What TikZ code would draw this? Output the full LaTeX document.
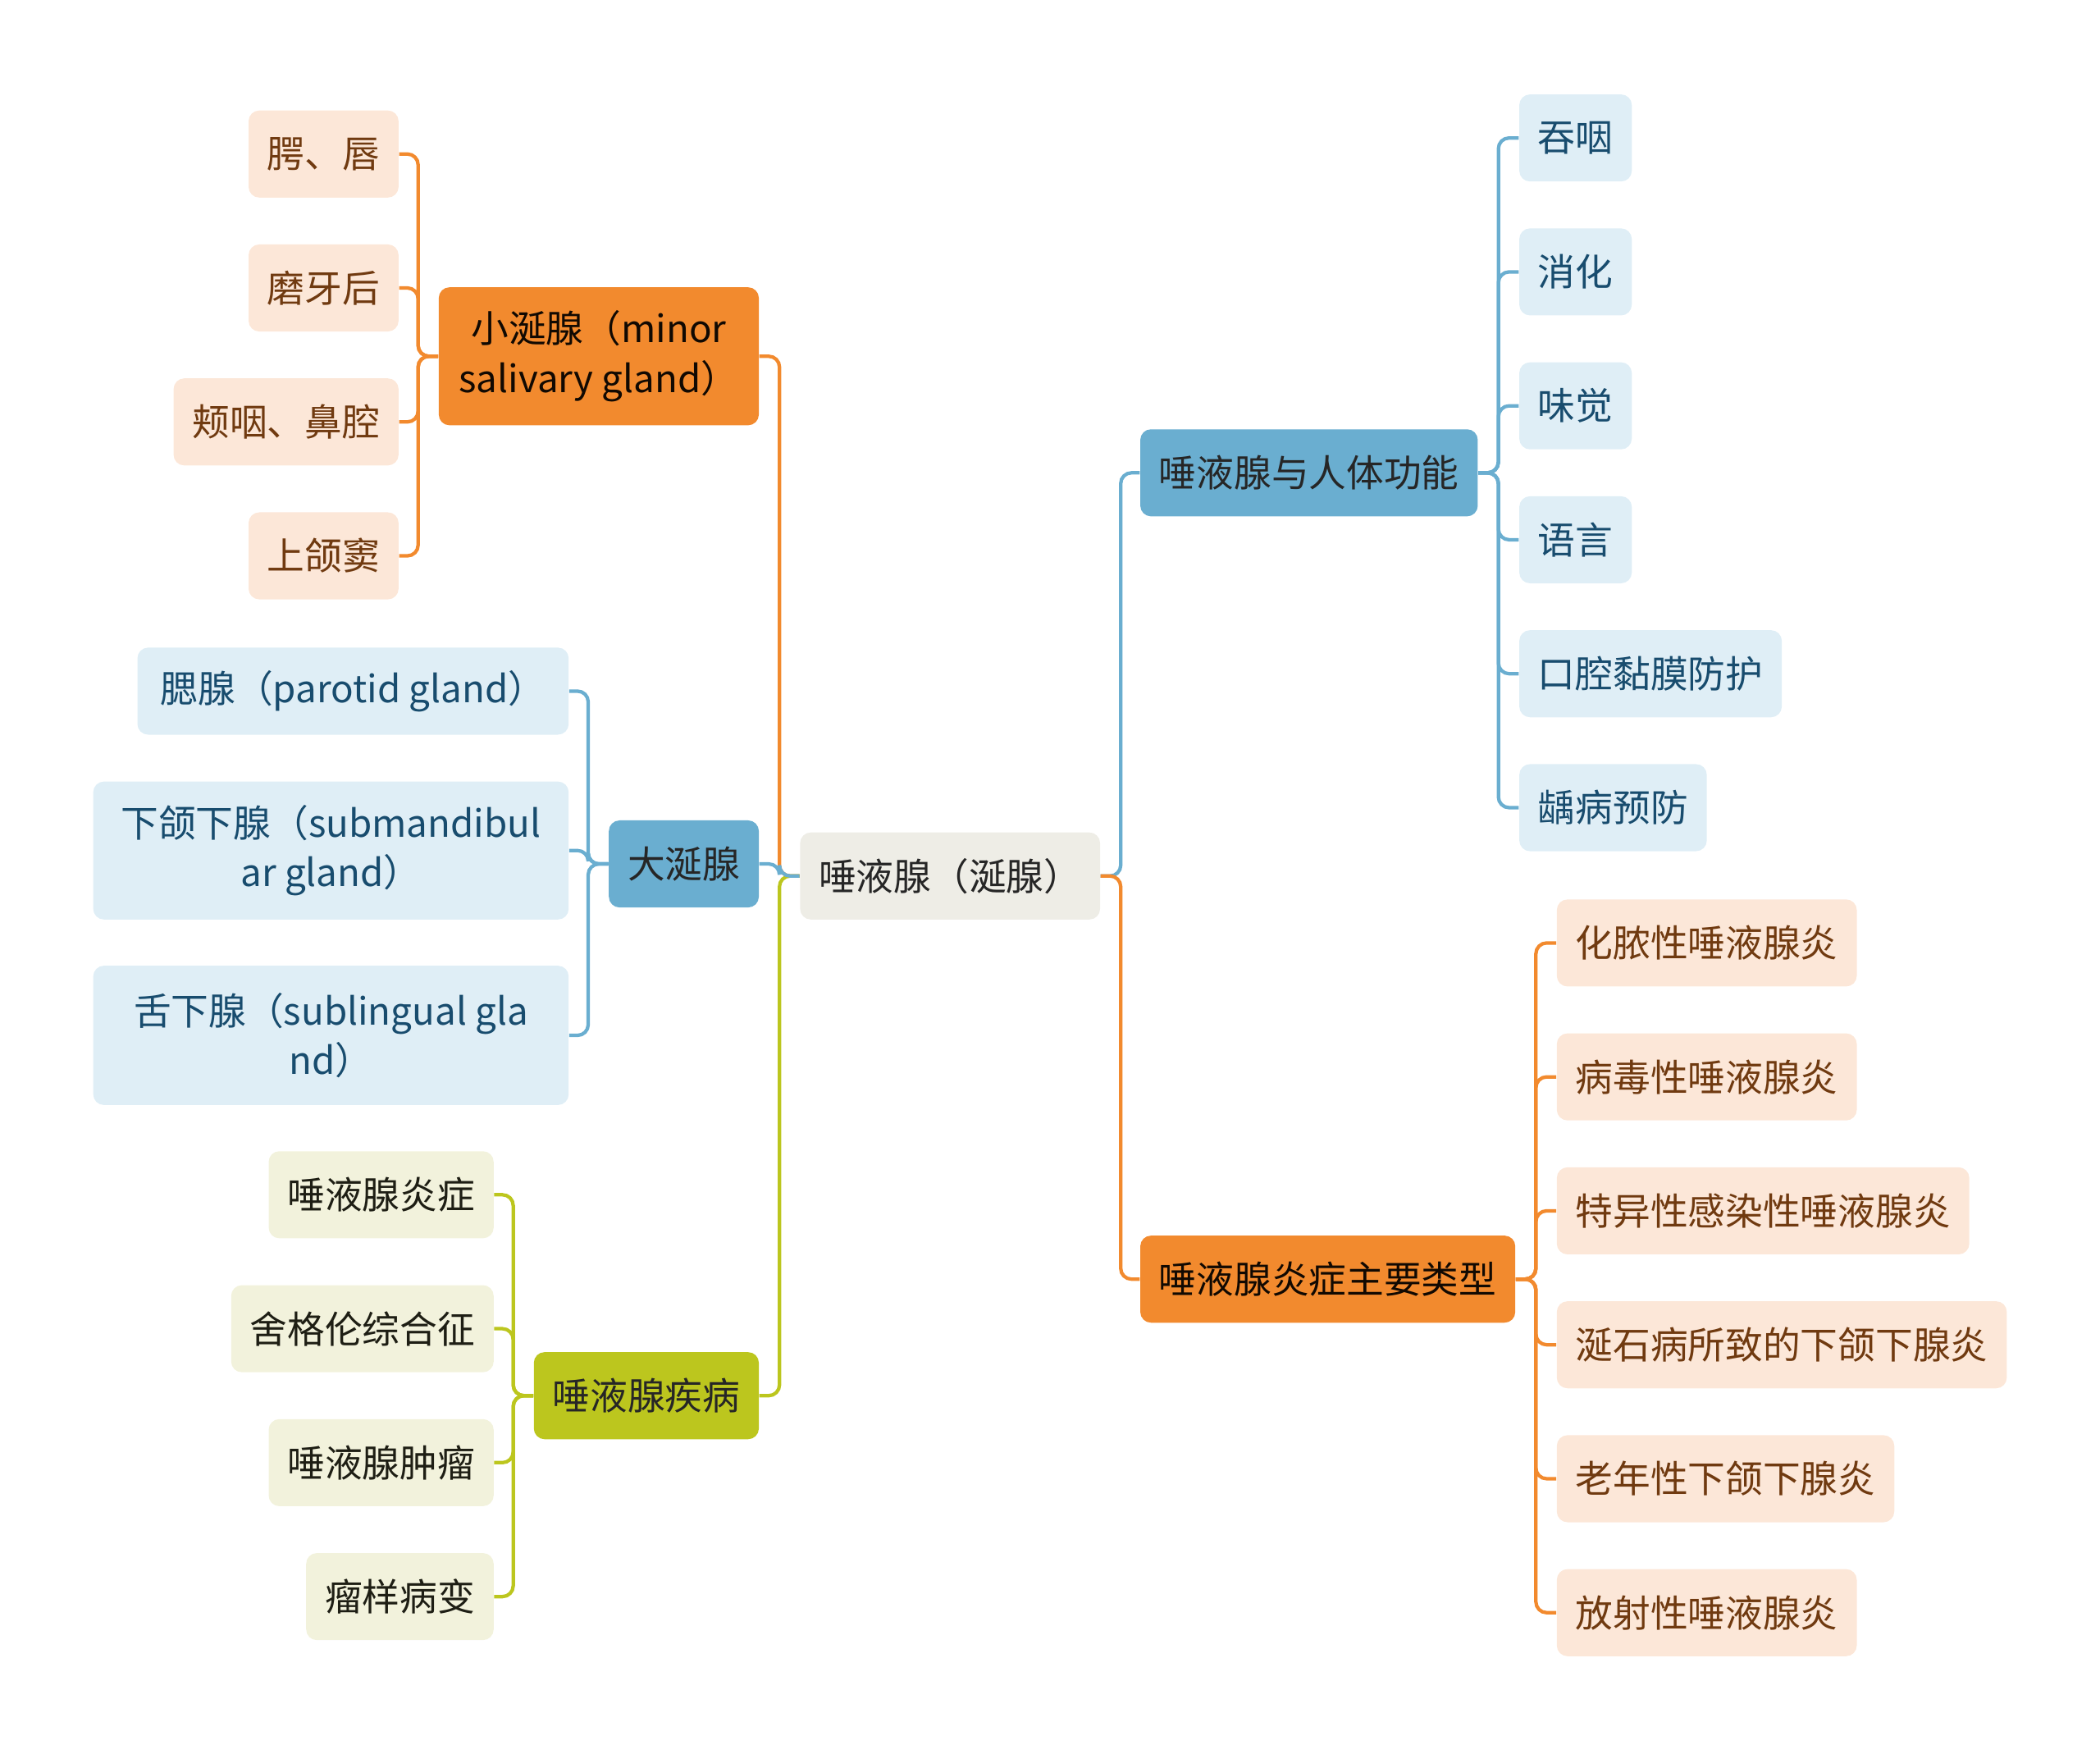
\documentclass[tikz,border=0pt]{standalone}
\usepackage{fontspec}
\setmainfont{Noto Sans CJK SC}
\usetikzlibrary{positioning}
\definecolor{rootfill}{RGB}{238,237,230}
\definecolor{orgmain}{RGB}{242,138,46}
\definecolor{orglight}{RGB}{252,231,216}
\definecolor{orgtext}{RGB}{112,58,16}
\definecolor{bluemain}{RGB}{106,174,208}
\definecolor{bluelight}{RGB}{223,238,246}
\definecolor{bluetext}{RGB}{24,76,110}
\definecolor{grnmain}{RGB}{188,198,30}
\definecolor{grnlight}{RGB}{242,242,220}
\definecolor{grntext}{RGB}{30,30,20}

\begin{document}
\begin{tikzpicture}[x=0.5pt, y=-0.5pt,
    box/.style={rectangle, rounded corners=4pt,
                minimum height=32.5pt, inner xsep=7pt,
                inner ysep=2pt, align=center,
                font=\fontsize{14}{18.5}\selectfont},
    rootbox/.style={box, fill=rootfill, text=black!85},
    orgbox/.style={box, fill=orgmain, text=black!85!orgtext},
    orgleaf/.style={box, fill=orglight, text=orgtext},
    bluebox/.style={box, fill=bluemain, text=black!85},
    blueleaf/.style={box, fill=bluelight, text=bluetext},
    grnbox/.style={box, fill=grnmain, text=black!85},
    grnleaf/.style={box, fill=grnlight, text=grntext},
    link/.style={line width=1.3pt, rounded corners=4pt},
    orglink/.style={link, draw=orgmain},
    bluelink/.style={link, draw=bluemain},
    grnlink/.style={link, draw=grnmain}
]
    \useasboundingbox (0,0) rectangle (1568,1309);

    % centre
    \node[rootbox, anchor=west] (root) at (597,654) {唾液腺（涎腺）};

    % left side
    \node[orgbox, anchor=east, minimum width=119.5pt,
          minimum height=51.5pt] (minor) at (567,266)
        {小涎腺（minor\\salivary gland）};
    \node[bluebox, anchor=east] (major) at (567,645) {大涎腺};
    \node[grnbox, anchor=east] (disease) at (567,1042) {唾液腺疾病};

    \node[orgleaf, anchor=east] (palate) at (298,115) {腭、唇};
    \node[orgleaf, anchor=east] (molar) at (298,215) {磨牙后};
    \node[orgleaf, anchor=east] (nasal) at (298,315) {颊咽、鼻腔};
    \node[orgleaf, anchor=east] (sinus) at (298,415) {上颌窦};

    \node[blueleaf, anchor=east, minimum width=161pt] (parotid) at (425,516)
        {腮腺（parotid gland）};
    \node[blueleaf, anchor=east, minimum width=177.5pt,
          minimum height=51.5pt] (submand) at (425,635)
        {下颌下腺（submandibul\\ar gland）};
    \node[blueleaf, anchor=east, minimum width=177.5pt,
          minimum height=52pt] (subling) at (425,773)
        {舌下腺（sublingual gla\\nd）};

    \node[grnleaf, anchor=east] (inflam) at (369,892) {唾液腺炎症};
    \node[grnleaf, anchor=east] (sjogren) at (369,992) {舍格伦综合征};
    \node[grnleaf, anchor=east] (tumour) at (369,1092) {唾液腺肿瘤};
    \node[grnleaf, anchor=east] (tumlike) at (369,1192) {瘤样病变};

    % right side
    \node[bluebox, anchor=west] (function) at (851,353) {唾液腺与人体功能};
    \node[orgbox, anchor=west] (types) at (851,955) {唾液腺炎症主要类型};

    \node[blueleaf, anchor=west] (swallow) at (1134,103) {吞咽};
    \node[blueleaf, anchor=west] (digest) at (1134,203) {消化};
    \node[blueleaf, anchor=west] (taste) at (1134,303) {味觉};
    \node[blueleaf, anchor=west] (speech) at (1134,403) {语言};
    \node[blueleaf, anchor=west] (mucosa) at (1134,503) {口腔黏膜防护};
    \node[blueleaf, anchor=west] (caries) at (1134,603) {龋病预防};

    \node[orgleaf, anchor=west] (pus) at (1162,704) {化脓性唾液腺炎};
    \node[orgleaf, anchor=west] (virus) at (1162,804) {病毒性唾液腺炎};
    \node[orgleaf, anchor=west] (specific) at (1162,904) {特异性感染性唾液腺炎};
    \node[orgleaf, anchor=west] (stone) at (1162,1004) {涎石病所致的下颌下腺炎};
    \node[orgleaf, anchor=west] (senile) at (1162,1104) {老年性下颌下腺炎};
    \node[orgleaf, anchor=west] (radiat) at (1162,1204) {放射性唾液腺炎};

    % connectors, centre
    \draw[orglink] (root.west) -- ++(-15,0) |- (minor.east);
    \draw[grnlink] (root.west) -- ++(-15,0) |- (disease.east);
    \draw[bluelink] (root.west) -- ++(-15,0) |- (major.east);
    \draw[bluelink] (root.east) -- ++(15,0) |- (function.west);
    \draw[orglink] (root.east) -- ++(15,0) |- (types.west);

    % connectors, left
    \draw[orglink] (minor.west) -- ++(-15,0) |- (palate.east);
    \draw[orglink] (minor.west) -- ++(-15,0) |- (molar.east);
    \draw[orglink] (minor.west) -- ++(-15,0) |- (nasal.east);
    \draw[orglink] (minor.west) -- ++(-15,0) |- (sinus.east);

    \draw[bluelink] (major.west) -- ++(-15,0) |- (parotid.east);
    \draw[bluelink] (major.west) -- ++(-15,0) |- (submand.east);
    \draw[bluelink] (major.west) -- ++(-15,0) |- (subling.east);

    \draw[grnlink] (disease.west) -- ++(-15,0) |- (inflam.east);
    \draw[grnlink] (disease.west) -- ++(-15,0) |- (sjogren.east);
    \draw[grnlink] (disease.west) -- ++(-15,0) |- (tumour.east);
    \draw[grnlink] (disease.west) -- ++(-15,0) |- (tumlike.east);

    % connectors, right
    \draw[bluelink] (function.east) -- ++(15,0) |- (swallow.west);
    \draw[bluelink] (function.east) -- ++(15,0) |- (digest.west);
    \draw[bluelink] (function.east) -- ++(15,0) |- (taste.west);
    \draw[bluelink] (function.east) -- ++(15,0) |- (speech.west);
    \draw[bluelink] (function.east) -- ++(15,0) |- (mucosa.west);
    \draw[bluelink] (function.east) -- ++(15,0) |- (caries.west);

    \draw[orglink] (types.east) -- ++(15,0) |- (pus.west);
    \draw[orglink] (types.east) -- ++(15,0) |- (virus.west);
    \draw[orglink] (types.east) -- ++(15,0) |- (specific.west);
    \draw[orglink] (types.east) -- ++(15,0) |- (stone.west);
    \draw[orglink] (types.east) -- ++(15,0) |- (senile.west);
    \draw[orglink] (types.east) -- ++(15,0) |- (radiat.west);
\end{tikzpicture}
\end{document}
